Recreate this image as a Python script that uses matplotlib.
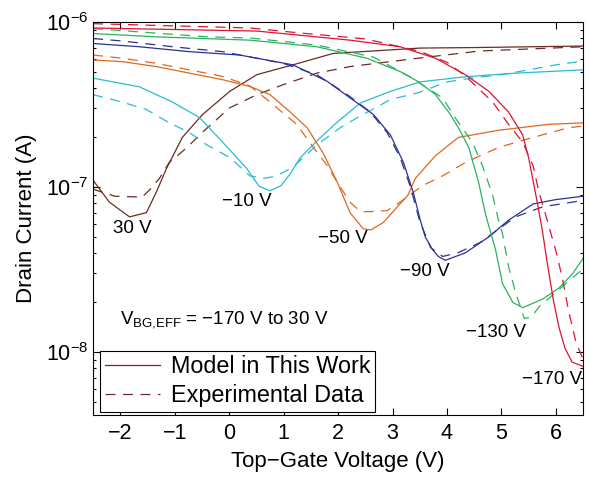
import numpy as np
import matplotlib.pyplot as plt

plt.rcParams['font.family'] = ['Liberation Sans', 'DejaVu Sans']
plt.rcParams['mathtext.fontset'] = 'custom'
plt.rcParams['mathtext.rm'] = 'Liberation Sans'
plt.rcParams['mathtext.it'] = 'Liberation Sans:italic'
plt.rcParams['mathtext.bf'] = 'Liberation Sans:bold'

# drain current in nA, one pair of curves per back-gate bias
vtg_30_model = [-2.5, -2.2, -1.83, -1.52, -1.34, -1.15, -0.86, -0.49, 0.01, 0.51, 1.17, 1.91, 3.5, 4.5, 6.5]
id_30_model = [110, 81, 66, 70, 93, 130, 200, 275, 380, 480, 550, 645, 695, 700, 715]
vtg_30_exp = [-2.5, -2.1, -1.6, -1.45, -1.28, -1.1, -0.78, -0.49, 0.01, 0.51, 0.99, 1.61, 2.22, 3.46, 4.6, 6.5]
id_30_exp = [97, 88, 87, 97, 113, 141, 173, 215, 302, 363, 417, 490, 537, 603, 667, 708]

vtg_m10_model = [-2.5, -1.65, -1.04, -0.54, -0.12, 0.32, 0.55, 0.75, 0.95, 1.12, 1.3, 1.61, 1.98, 2.41, 2.96, 3.51, 4.34, 5.26, 6.5]
id_m10_model = [457, 405, 327, 263, 187, 130, 101, 95, 102, 120, 150, 190, 247, 323, 380, 434, 466, 490, 513]
vtg_m10_exp = [-2.5, -1.96, -1.52, -1.10, -0.73, -0.41, 0.01, 0.38, 0.62, 0.85, 1.17, 1.61, 2.04, 2.35, 2.96, 3.46, 4.0, 4.5, 5.0, 5.5, 6.0, 6.5]
id_m10_exp = [363, 327, 295, 245, 214, 180, 151, 117, 113, 116, 132, 180, 229, 263, 339, 372, 433, 460, 480, 513, 550, 580]

vtg_m50_model = [-2.5, -1.96, -1.34, -0.73, -0.12, 0.38, 0.75, 1.12, 1.43, 1.72, 1.98, 2.22, 2.46, 2.6, 2.83, 3.09, 3.28, 3.42, 3.79, 4.21, 4.95, 5.87, 6.5]
id_m50_model = [589, 575, 537, 490, 447, 407, 363, 285, 229, 162, 108, 70, 56, 55, 61, 76, 89, 113, 155, 200, 221, 240, 245]
vtg_m50_exp = [-2.5, -1.96, -1.34, -0.73, -0.12, 0.38, 0.69, 1.24, 1.48, 1.80, 2.04, 2.22, 2.41, 2.59, 2.9, 3.09, 3.55, 3.92, 4.34, 4.95, 5.58, 6.24, 6.5]
id_m50_exp = [631, 603, 562, 513, 468, 410, 340, 240, 186, 135, 100, 81, 71, 71, 72, 79, 102, 117, 141, 174, 200, 229, 234]

vtg_m90_model = [-2.5, -1.65, -0.73, 0.19, 1.17, 1.80, 2.22, 2.65, 2.96, 3.20, 3.38, 3.51, 3.6, 3.73, 3.84, 3.97, 4.34, 4.77, 5.13, 5.58, 6.0, 6.5]
id_m90_model = [741, 708, 661, 631, 550, 437, 347, 275, 207, 141, 93, 63, 50, 42, 38, 36, 40, 50, 63, 79, 84, 88]
vtg_m90_exp = [-2.5, -1.96, -1.04, -0.12, 0.99, 1.61, 2.17, 2.59, 2.90, 3.14, 3.33, 3.5, 3.7, 3.92, 4.2, 4.6, 5.26, 5.76, 6.5]
id_m90_exp = [794, 767, 708, 661, 562, 479, 363, 285, 214, 151, 100, 62, 43, 38, 40, 46, 66, 76, 83]

vtg_m130_model = [-2.5, -1.34, 0.38, 1.61, 2.53, 3.14, 3.46, 3.79, 4.03, 4.21, 4.40, 4.58, 4.71, 4.89, 5.02, 5.21, 5.39, 5.76, 6.06, 6.31, 6.5]
id_m130_model = [851, 813, 776, 708, 603, 501, 437, 363, 285, 229, 174, 107, 68, 42, 26, 20, 18.6, 21, 24.5, 30, 37]
vtg_m130_exp = [-2.5, -1.65, -0.41, 0.38, 1.61, 2.65, 3.3, 3.92, 4.15, 4.47, 4.65, 4.84, 4.95, 5.02, 5.13, 5.26, 5.42, 5.55, 5.7, 6.06, 6.5]
id_m130_exp = [912, 871, 813, 800, 725, 613, 470, 347, 263, 186, 135, 89, 62, 52, 33, 23, 16, 16.3, 19, 24, 32]

vtg_m170_model = [-2.5, 0.51, 1.29, 2.22, 3.14, 3.79, 4.34, 4.77, 5.13, 5.39, 5.5, 5.58, 5.66, 5.75, 5.84, 5.95, 6.06, 6.17, 6.3, 6.5]
id_m170_model = [920, 881, 832, 776, 708, 603, 479, 380, 285, 207, 150, 110, 80, 55, 35, 21, 14, 10.5, 8.7, 8.2]
vtg_m170_exp = [-2.5, 0.38, 1.3, 2.5, 3.5, 4.0, 4.34, 4.84, 5.13, 5.39, 5.58, 5.69, 5.8, 6.0, 6.12, 6.23, 6.36, 6.5]
id_m170_exp = [977, 920, 858, 790, 665, 570, 470, 327, 240, 187, 135, 93, 70, 41, 28, 18, 11.8, 9]

curve_labels = ['30 V', '\u221210 V', '\u221250 V', '\u221290 V', '\u2212130 V', '\u2212170 V']
colors = ['#6a2c24', '#28bcd2', '#e0681e', '#2c3192', '#2cb35e', '#dc1433']
label_pos = [(-1.78, 5.6e-8), (0.32, 8.2e-8), (2.09, 4.85e-8), (3.6, 3.1e-8), (4.9, 1.32e-8), (5.93, 6.8e-9)]

models = [(vtg_30_model, id_30_model), (vtg_m10_model, id_m10_model), (vtg_m50_model, id_m50_model),
          (vtg_m90_model, id_m90_model), (vtg_m130_model, id_m130_model), (vtg_m170_model, id_m170_model)]
exps = [(vtg_30_exp, id_30_exp), (vtg_m10_exp, id_m10_exp), (vtg_m50_exp, id_m50_exp),
        (vtg_m90_exp, id_m90_exp), (vtg_m130_exp, id_m130_exp), (vtg_m170_exp, id_m170_exp)]

fig = plt.figure(figsize=(5.89, 4.78), dpi=100)
ax = fig.add_axes([0.158, 0.132, 0.832, 0.822])

handles = []
for i in range(len(models)):
    vm, im = models[i]
    ve, ie = exps[i]
    hm, = ax.plot(vm, np.array(im) * 1e-9, '-', color=colors[i], lw=0.9)
    he, = ax.plot(ve, np.array(ie) * 1e-9, '--', color=colors[i], lw=0.9, dashes=(8, 6))
    if i == 0:
        handles = [hm, he]
    ax.text(label_pos[i][0], label_pos[i][1], curve_labels[i], fontsize=13.5,
            ha='center', va='center')

ax.set_yscale('log')
ax.set_xlim(-2.5, 6.5)
ax.set_ylim(10 ** -8.38, 1e-6)
ax.set_xticks(range(-2, 7))
ax.tick_params(which='both', direction='in', top=True, right=True, width=0.8, labelsize=15.5)
ax.tick_params(which='major', length=5)
ax.tick_params(which='minor', length=2.5)
ax.tick_params(axis='x', pad=6)
for s in ax.spines.values():
    s.set_linewidth(0.8)

ax.set_xlabel('Top\u2212Gate Voltage (V)', fontsize=16, labelpad=5)
ax.set_ylabel('Drain Current (A)', fontsize=16, labelpad=6)

ax.text(0.055, 0.242, '$\\mathregular{V_{BG{,}EFF}}$ = \u2212170 V to 30 V',
        transform=ax.transAxes, fontsize=13.5, ha='left', va='center')

leg = ax.legend(handles, ['Model in This Work', 'Experimental Data'], loc='lower left',
                bbox_to_anchor=(0.014, 0.008), borderaxespad=0, fontsize=16.8, handlelength=2.36,
                labelspacing=0.25, borderpad=0.2, handletextpad=0.5, fancybox=False, framealpha=1)
leg.get_frame().set_edgecolor('black')
leg.get_frame().set_linewidth(0.8)

fig.savefig('out.png', dpi=100)
